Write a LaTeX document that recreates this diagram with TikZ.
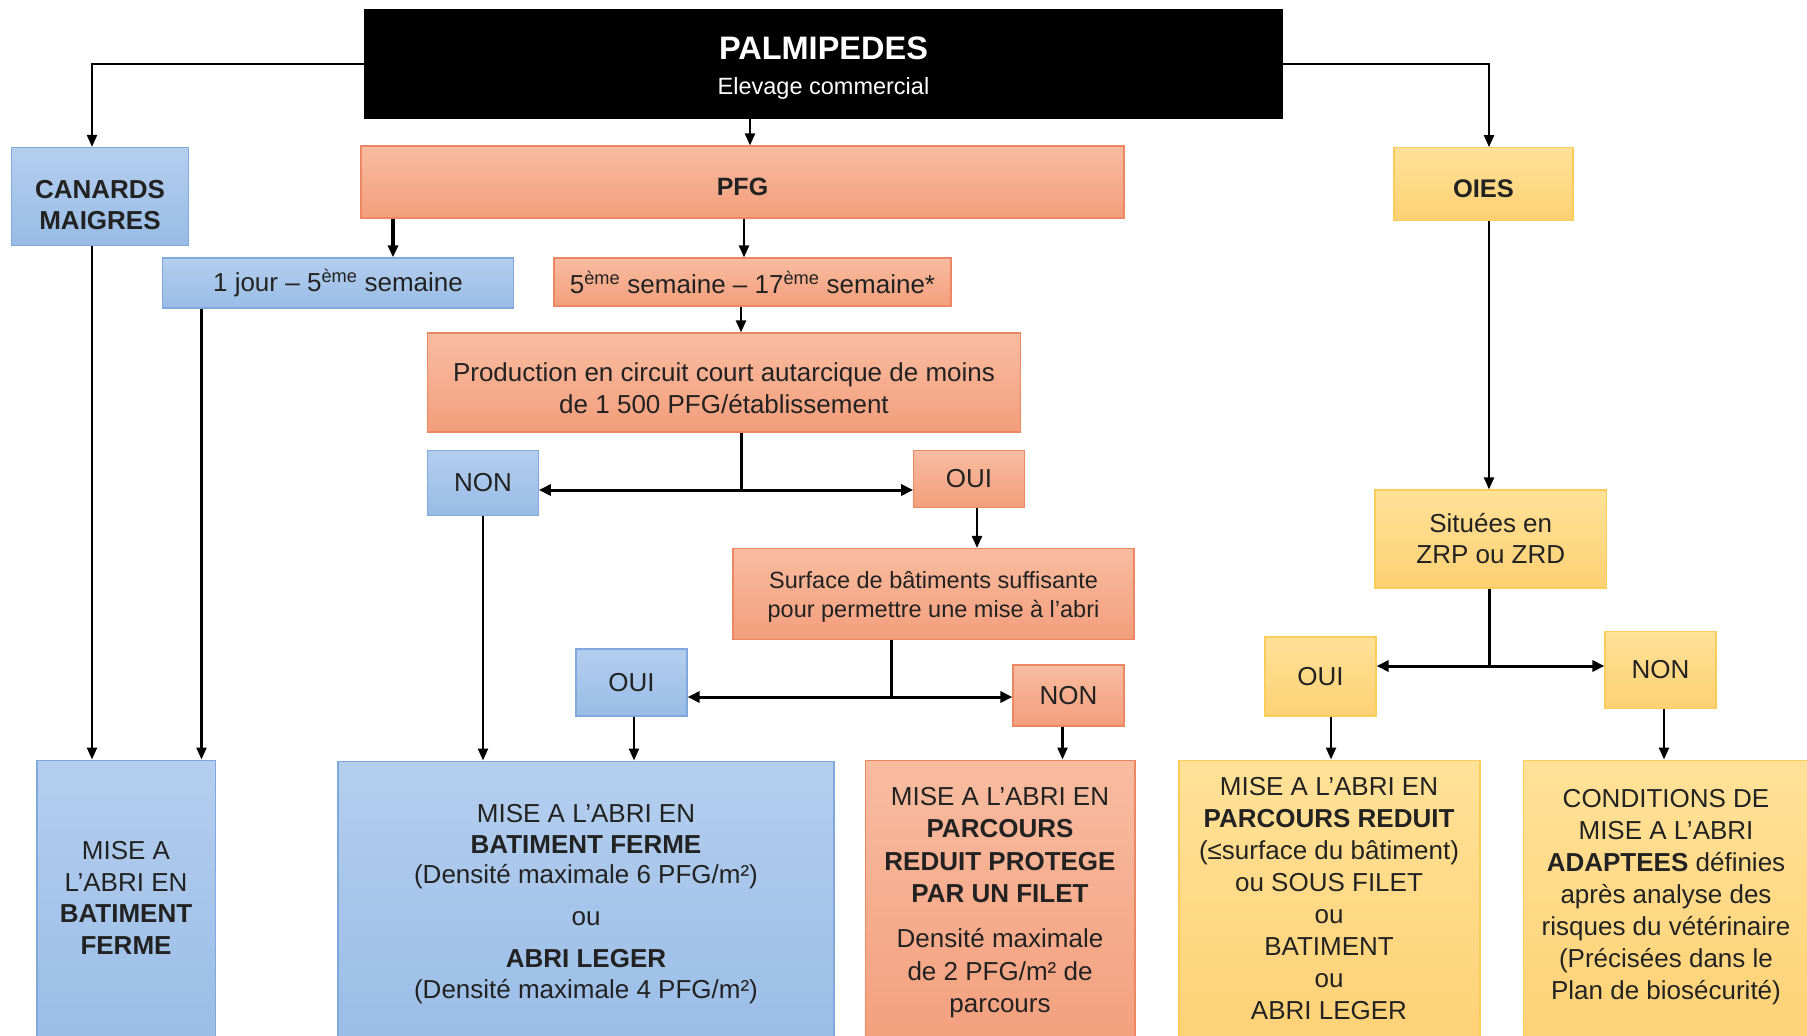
\documentclass[tikz,border=0pt]{standalone}
\usepackage{fontspec}
\setmainfont{Liberation Sans}
\usetikzlibrary{arrows.meta}
\definecolor{bluetop}{RGB}{180,206,238}
\definecolor{bluebot}{RGB}{152,188,230}
\definecolor{bluedraw}{RGB}{128,168,220}
\definecolor{saltop}{RGB}{248,188,160}
\definecolor{salbot}{RGB}{243,158,124}
\definecolor{saldraw}{RGB}{236,135,100}
\definecolor{yeltop}{RGB}{255,226,152}
\definecolor{yelbot}{RGB}{254,208,115}
\definecolor{yeldraw}{RGB}{250,205,90}
\definecolor{txt}{RGB}{34,34,34}
\newcommand\myfs[2]{\fontsize{#1}{#2}\selectfont}
\newcommand\tpad[1]{\rule{0pt}{#1}}
\begin{document}
\begin{tikzpicture}[x=1pt,y=-1pt,
  box/.style={draw, line width=1.2pt, inner sep=0pt, align=center, text=txt, font=\myfs{26}{32}},
  bluebox/.style={box, draw=bluedraw, top color=bluetop, bottom color=bluebot},
  salbox/.style={box, draw=saldraw, top color=saltop, bottom color=salbot},
  yelbox/.style={box, draw=yeldraw, top color=yeltop, bottom color=yelbot},
  txtnode/.style={inner sep=0pt, align=center, text=txt, font=\myfs{26}{32}, anchor=north},
  arr/.style={-{Triangle[length=12pt,width=10pt]}, line width=2.3pt},
  arrb/.style={-{Triangle[length=12pt,width=11pt]}, line width=3pt},
  br/.style={line width=3pt}]
\useasboundingbox (0,0) rectangle (1807,1036);
\clip (0,0) rectangle (1807,1036);
\fill[white] (0,0) rectangle (1807,1036);

% top
\node[fill=black, inner sep=0pt, minimum width=919pt, minimum height=110pt, align=center, text=white, font=\myfs{23.5}{35}] (pal) at (823.5,64)
  {{\tpad{30.2pt}\bfseries\myfs{32.5}{35}PALMIPEDES}\\Elevage commercial};

\node[bluebox, minimum width=176.5pt, minimum height=98pt, font=\bfseries\myfs{26}{31}] (canards) at (100,196.5) {\tpad{34.6pt}CANARDS\\MAIGRES};
\node[salbox, minimum width=763pt, minimum height=72pt, font=\bfseries\myfs{25}{30}] (pfg) at (742.5,182) {\tpad{27.1pt}PFG};
\node[yelbox, minimum width=179pt, minimum height=72.5pt, font=\bfseries\myfs{25.5}{30}] (oies) at (1483.5,184) {\tpad{27.5pt}OIES};

\node[bluebox, minimum width=350.5pt, minimum height=50pt] (jour1) at (338,283) {1 jour -- 5\textsuperscript{ème} semaine};
\node[salbox, minimum width=397pt, minimum height=48pt] (sem5) at (752.5,282) {5\textsuperscript{ème} semaine -- 17\textsuperscript{ème} semaine*};

\node[salbox, minimum width=592.5pt, minimum height=99pt] (prod) at (724,382.5) {\tpad{30pt}Production en circuit court autarcique de moins\\de 1 500 PFG/établissement};
\node[bluebox, minimum width=110.5pt, minimum height=65.5pt] (non1) at (483,483) {NON};
\node[salbox, minimum width=110.5pt, minimum height=56.5pt] (oui1) at (969,479) {OUI};

\node[salbox, minimum width=401pt, minimum height=91pt, font=\myfs{23.5}{29}] (surf) at (933.5,594) {\tpad{23.2pt}Surface de bâtiments suffisante\\pour permettre une mise à l’abri};
\node[bluebox, minimum width=111pt, minimum height=67pt] (oui2) at (631.5,682.5) {OUI};
\node[salbox, minimum width=111pt, minimum height=61pt] (non2) at (1068.5,695.5) {NON};

\node[yelbox, minimum width=231.5pt, minimum height=98pt, font=\myfs{26}{31}] (sit) at (1490.75,539) {Situées en\\ZRP ou ZRD};
\node[yelbox, minimum width=111pt, minimum height=79pt] (oui3) at (1320.5,676.5) {OUI};
\node[yelbox, minimum width=111pt, minimum height=77.5pt] (non3) at (1660.5,670) {NON};

% bottom boxes
\node[bluebox, anchor=north, minimum width=178.5pt, minimum height=300pt] (b1) at (126.25,759.5) {};
\node[bluebox, anchor=north, minimum width=496pt, minimum height=300pt] (b2) at (586,760.5) {};
\node[salbox, anchor=north, minimum width=269.5pt, minimum height=300pt] (b3) at (1000.25,759.5) {};
\node[yelbox, anchor=north, minimum width=301pt, minimum height=300pt] (b4) at (1329.5,759.5) {};
\node[yelbox, anchor=north, minimum width=289pt, minimum height=300pt] (b5) at (1668,759.5) {};

\node[txtnode, font=\myfs{26}{31.5}] (t1) at (126,841.2) {MISE A\\L’ABRI EN\\\textbf{BATIMENT}\\\textbf{FERME}};
\node[txtnode, font=\myfs{26}{30.5}] (t2) at (586,804.3) {MISE A L’ABRI EN\\\textbf{BATIMENT FERME}\\(Densité maximale 6 PFG/m²)\\[11pt]ou\\[12pt]\textbf{ABRI LEGER}\\(Densité maximale 4 PFG/m²)};
\node[txtnode, font=\myfs{26}{32.5}] (t3) at (1000,786.7) {MISE A L’ABRI EN\\\textbf{PARCOURS}\\\textbf{REDUIT PROTEGE}\\\textbf{PAR UN FILET}\\[12.5pt]Densité maximale\\de 2 PFG/m² de\\parcours};
\node[txtnode, font=\myfs{26}{32.1}] (t4) at (1329,776.7) {MISE A L’ABRI EN\\\textbf{PARCOURS REDUIT}\\(≤surface du bâtiment)\\ou SOUS FILET\\ou\\BATIMENT\\ou\\ABRI LEGER};
\node[txtnode, font=\myfs{26}{32}] (t5) at (1666,789.3) {CONDITIONS DE\\MISE A L’ABRI\\\textbf{ADAPTEES} définies\\après analyse des\\risques du vétérinaire\\(Précisées dans le\\Plan de biosécurité)};

% connector x positions
\coordinate (xA) at (92,0);
\coordinate (xB) at (750,0);
\coordinate (xC) at (1489,0);
\coordinate (xD) at (393,0);
\coordinate (xE) at (744,0);
\coordinate (xF) at (741,0);
\coordinate (xG) at (201.5,0);
\coordinate (xH) at (977,0);
\coordinate (xJ) at (483,0);
\coordinate (xK) at (634,0);
\coordinate (xL) at (1062.5,0);
\coordinate (xM) at (1331,0);
\coordinate (xN) at (1664,0);
\coordinate (j1) at (741,490);
\coordinate (j2) at (891,697);
\coordinate (j3) at (1489,666);

\draw[arr] (pal.west) -| (xA |- canards.north);
\draw[arr] (xA |- canards.south) -- (xA |- b1.north);
\draw[arr] (xB |- pal.south) -- (xB |- pfg.north);
\draw[arr] (pal.east) -| (xC |- oies.north);
\draw[arr] (xC |- oies.south) -- (xC |- sit.north);
\draw[arr, line width=3.3pt] (xD |- pfg.south) -- (xD |- jour1.north);
\draw[arr] (xE |- pfg.south) -- (xE |- sem5.north);
\draw[arr] (xG |- jour1.south) -- (xG |- b1.north);
\draw[arr] (xF |- sem5.south) -- (xF |- prod.north);
\draw[br] (xF |- prod.south) -- (j1);
\draw[arrb] (j1) -- (j1 -| non1.east);
\draw[arrb] (j1) -- (j1 -| oui1.west);
\draw[arr] (xH |- oui1.south) -- (xH |- surf.north);
\draw[br] (j2 |- surf.south) -- (j2);
\draw[arrb] (j2) -- (j2 -| oui2.east);
\draw[arrb] (j2) -- (j2 -| non2.west);
\draw[arr] (xJ |- non1.south) -- (xJ |- b2.north);
\draw[arr] (xK |- oui2.south) -- (xK |- b2.north);
\draw[arr] (xL |- non2.south) -- (xL |- b3.north);
\draw[br] (j3 |- sit.south) -- (j3);
\draw[arrb] (j3) -- (j3 -| oui3.east);
\draw[arrb] (j3) -- (j3 -| non3.west);
\draw[arr] (xM |- oui3.south) -- (xM |- b4.north);
\draw[arr] (xN |- non3.south) -- (xN |- b5.north);
\end{tikzpicture}
\end{document}
